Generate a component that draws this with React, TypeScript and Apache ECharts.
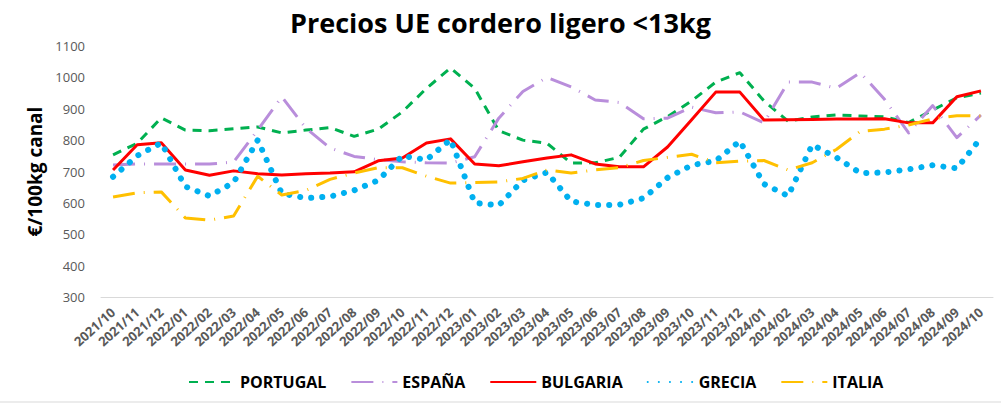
import React, { useEffect, useRef } from "react";
import * as echarts from "echarts";

const categories = [
  "2021/10","2021/11","2021/12","2022/01","2022/02","2022/03","2022/04","2022/05","2022/06","2022/07","2022/08","2022/09",
  "2022/10","2022/11","2022/12","2023/01","2023/02","2023/03","2023/04","2023/05","2023/06","2023/07","2023/08","2023/09",
  "2023/10","2023/11","2023/12","2024/01","2024/02","2024/03","2024/04","2024/05","2024/06","2024/07","2024/08","2024/09","2024/10",
];

const portugal = [753, 790, 871, 832, 830, 836, 842, 823, 832, 840, 812, 835, 890, 965, 1030, 965, 830, 800, 790, 727, 728, 745, 835, 875, 925, 985, 1015, 925, 860, 874, 880, 877, 874, 856, 896, 935, 950];
const espana = [721, 724, 724, 724, 724, 730, 832, 938, 838, 775, 748, 738, 731, 728, 727, 747, 870, 955, 1000, 970, 928, 920, 868, 870, 905, 887, 890, 855, 985, 985, 965, 1015, 930, 823, 910, 808, 880];
const bulgaria = [705, 785, 792, 705, 688, 702, 693, 689, 693, 695, 699, 734, 743, 791, 804, 724, 718, 731, 743, 753, 724, 715, 715, 778, 865, 953, 953, 864, 865, 866, 867, 867, 868, 855, 855, 938, 957];
const grecia = [683, 750, 791, 652, 622, 665, 800, 630, 615, 620, 640, 672, 750, 737, 802, 600, 592, 672, 697, 605, 593, 594, 615, 680, 720, 734, 797, 660, 622, 785, 745, 695, 697, 707, 720, 710, 807];
const italia = [619, 632, 635, 552, 545, 558, 685, 625, 640, 675, 695, 712, 712, 685, 663, 665, 667, 678, 705, 695, 705, 712, 735, 745, 755, 728, 733, 735, 705, 728, 770, 828, 835, 848, 868, 878, 877];

const yTicks = { min: 300, max: 1100, interval: 100 };

const FONT = "'Open Sans', 'Liberation Sans', sans-serif";

export default function App() {
  const ref = useRef<HTMLDivElement>(null);
  useEffect(() => {
    if (!ref.current) return;
    const chart = echarts.init(ref.current, null, { renderer: "svg" });
    const mk = (name: string, data: number[], color: string, width: number, dash: any, cap: any = "butt") => ({
      name,
      type: "line",
      data,
      symbol: "none",
      showSymbol: false,
      lineStyle: { color, width, type: dash, cap, join: "round" },
      itemStyle: { color },
    });
    chart.setOption({
      animation: false,
      textStyle: { fontFamily: FONT },
      title: {
        text: "Precios UE cordero ligero <13kg",
        left: "center",
        top: 4,
        textStyle: { fontFamily: FONT, fontSize: 27, fontWeight: "bold", color: "#000" },
      },
      grid: { left: 101, right: 8, top: 46, bottom: 109, containLabel: false },
      legend: {
        bottom: 11,
        left: 183,
        itemWidth: 46,
        itemHeight: 12,
        itemGap: 24,
        itemStyle: { opacity: 0 },
        textStyle: { fontFamily: FONT, fontSize: 16, fontWeight: "bold", color: "#000" },
        data: ["PORTUGAL", "ESPAÑA", "BULGARIA", "GRECIA", "ITALIA"],
      },
      xAxis: {
        type: "category",
        data: categories,
        boundaryGap: true,
        axisLine: { lineStyle: { color: "#d9d9d9", width: 1 } },
        axisTick: { show: false },
        axisLabel: { rotate: 42, color: "#595959", fontSize: 13, fontWeight: "bold", interval: 0, margin: 13 },
      },
      yAxis: {
        type: "value",
        min: yTicks.min,
        max: yTicks.max,
        interval: yTicks.interval,
        splitLine: { show: false },
        axisLine: { show: false },
        axisTick: { show: false },
        axisLabel: { color: "#595959", fontSize: 13, margin: 16, formatter: (v: number) => String(v) },
        name: "€/100kg canal",
        nameLocation: "middle",
        nameGap: 52,
        nameTextStyle: { fontFamily: FONT, fontSize: 19, fontWeight: "bold", color: "#000" },
      },
      graphic: [
        { type: "line", shape: { x1: 0, y1: 402, x2: 1001, y2: 402 }, style: { stroke: "#d9d9d9", lineWidth: 1 }, silent: true },
      ],
      series: [
        mk("PORTUGAL", portugal, "#00B050", 3, [9, 7]),
        mk("ESPAÑA", espana, "#B98EDB", 3, [22, 9, 1, 9]),
        mk("BULGARIA", bulgaria, "#FF0000", 3, "solid"),
        mk("GRECIA", grecia, "#00B0F0", 6, [0.1, 11], "round"),
        mk("ITALIA", italia, "#FFC000", 3, [22, 9, 1, 9]),
      ],
    });
    return () => chart.dispose();
  }, []);
  return <div ref={ref} style={{ width: 1001, height: 406, position: "absolute", left: 0, top: 0 }} />;
}
